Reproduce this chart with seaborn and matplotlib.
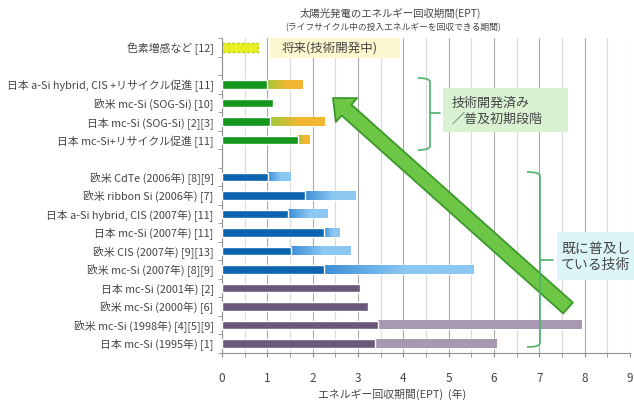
import numpy as np
import pandas as pd
import matplotlib
matplotlib.use("Agg")
import matplotlib.pyplot as plt
import matplotlib.colors as mcolors
from matplotlib.patches import Rectangle
from matplotlib.path import Path
from matplotlib.patches import PathPatch
from matplotlib.lines import Line2D
import seaborn as sns

nan = np.nan

# Energy payback time (EPT) by technology, in years
labels = [
    "色素増感など [12]",
    " ",
    "日本 a-Si hybrid, CIS +リサイクル促進 [11]",
    "欧米 mc-Si (SOG-Si) [10]",
    "日本 mc-Si (SOG-Si) [2][3]",
    "日本 mc-Si+リサイクル促進 [11]",
    "  ",
    "欧米 CdTe (2006年) [8][9]",
    "欧米 ribbon Si (2006年) [7]",
    "日本 a-Si hybrid, CIS (2007年) [11]",
    "日本 mc-Si (2007年) [11]",
    "欧米 CIS (2007年) [9][13]",
    "欧米 mc-Si (2007年) [8][9]",
    "日本 mc-Si (2001年) [2]",
    "欧米 mc-Si (2000年) [6]",
    "欧米 mc-Si (1998年) [4][5][9]",
    "日本 mc-Si (1995年) [1]",
]
ept_low = [0.80, nan, 0.99, 1.13, 1.06, 1.68, nan,
           1.02, 1.83, 1.46, 2.26, 1.52, 2.26,
           3.05, 3.23, 3.45, 3.38]
ept_high = [0.80, nan, 1.78, 1.13, 2.27, 1.94, nan,
            1.52, 2.95, 2.33, 2.60, 2.84, 5.55,
            3.05, 3.23, 7.94, 6.05]
stage = (["future", "blank"] + ["developed"] * 4 + ["blank"]
         + ["spread"] * 6 + ["early"] * 4)

title = "太陽光発電のエネルギー回収期間(EPT)"
subtitle = "(ライフサイクル中の投入エネルギーを回収できる期間)"
xlabel = "エネルギー回収期間(EPT)  (年)"
future_note = "将来(技術開発中)"
dev_note = "技術開発済み\n／普及初期段階"
spread_note = "既に普及し\nている技術"

dark_color = {"future": "#e8ef22", "developed": "#15961d",
              "spread": "#0c63b0", "early": "#6b5779"}
light_color = {"future": "#e8ef22", "developed": "#f2b632",
               "spread": "#8cc8f2", "early": "#a898b2"}
fade_start = {"developed": "#a3c93c", "spread": "#3d8fd6", "early": "#a898b2"}

df = pd.DataFrame({"label": labels, "low": ept_low, "high": ept_high, "stage": stage})

sns.set_style("white")
plt.rcParams["font.family"] = ["Noto Sans CJK JP", "DejaVu Sans"]
text_color = "#454545"

W, H = 634, 403
fig = plt.figure(figsize=(W / 100, H / 100), dpi=100)


def fx(px):
    return px / W


def fy(py):
    return 1 - py / H


ax = fig.add_axes([fx(222), fy(353), 408 / W, 315 / H])

bar_w = 0.46
# full-length (light) bars per stage
for g in ["future", "developed", "spread", "early"]:
    sub = df[df["stage"] == g]
    sns.barplot(data=sub, x="high", y="label", order=labels, orient="y",
                color=light_color[g], saturation=1, width=bar_w,
                errorbar=None, ax=ax, zorder=2)
n_light = len(ax.patches)
# dark portion drawn on top
for g in ["developed", "spread", "early"]:
    sub = df[df["stage"] == g]
    sns.barplot(data=sub, x="low", y="label", order=labels, orient="y",
                color=dark_color[g], saturation=1, width=bar_w,
                errorbar=None, ax=ax, zorder=4)

# colour fade on the light segment, placed over each light bar
for p in ax.patches[:n_light]:
    if not np.isfinite(p.get_width()) or p.get_width() <= 0:
        continue
    row = int(round(p.get_y() + p.get_height() / 2))
    g = stage[row]
    y0, y1 = p.get_y(), p.get_y() + p.get_height()
    if g == "future":
        p.set_edgecolor("#b9cf00")
        p.set_linestyle((0, (2, 1.5)))
        p.set_linewidth(1.0)
        continue
    lo, hi = ept_low[row], ept_high[row]
    if hi <= lo:
        continue
    c0 = np.array(mcolors.to_rgba(fade_start[g]))
    c1 = np.array(mcolors.to_rgba(light_color[g]))
    t = np.clip(np.linspace(0, 1, 64) / 0.55, 0, 1)[:, None]
    img = (c0 + (c1 - c0) * t)[None, :, :]
    ax.imshow(img, extent=(lo, hi, y1, y0), aspect="auto", zorder=3,
              interpolation="bilinear")

ax.set_xlim(0, 9)
ax.set_ylim(16.5, -0.5)
ax.set_xticks(np.arange(0, 10, 1))
ax.set_xticks(np.arange(0.5, 9, 1), minor=True)
ax.set_yticks(np.arange(len(labels)))
ax.set_yticklabels(labels)
ax.set_yticks(np.arange(-0.5, len(labels), 1), minor=True)
ax.set_xlabel("")
ax.set_ylabel("")
ax.set_axisbelow(True)
ax.grid(axis="x", which="major", color="#a9a9a9", lw=0.8, zorder=0)
ax.grid(axis="x", which="minor", color="#dadada", lw=0.8, zorder=0)
ax.grid(axis="y", visible=False)
for s in ["top", "right"]:
    ax.spines[s].set_visible(False)
for s in ["left", "bottom"]:
    ax.spines[s].set_color("#909090")
    ax.spines[s].set_linewidth(0.8)
ax.tick_params(axis="y", which="major", length=0, pad=6, labelsize=7.8,
               labelcolor=text_color)
ax.tick_params(axis="y", which="minor", length=3, direction="out",
               color="#909090", left=True)
ax.tick_params(axis="x", which="both", length=3, direction="out",
               color="#909090", bottom=True)
ax.tick_params(axis="x", which="major", pad=11, labelsize=8.5,
               labelcolor=text_color)

# titles and axis label
fig.text(fx(390), fy(13), title, ha="center", va="center", fontsize=7.5,
         color=text_color)
fig.text(fx(393), fy(28), subtitle, ha="center", va="center", fontsize=6.3,
         color=text_color)
fig.text(fx(392), fy(394), xlabel, ha="center", va="center", fontsize=7.8,
         color=text_color)

# stage notes
fig.add_artist(Rectangle((fx(270), fy(58)), (400 - 270) / W, 20 / H,
                         transform=fig.transFigure, fc="#fdf8cf", ec="none",
                         zorder=1))
fig.text(fx(282), fy(48), future_note, ha="left", va="center", fontsize=9,
         color=text_color, zorder=2)

fig.add_artist(Rectangle((fx(443), fy(132)), (568 - 443) / W, 44 / H,
                         transform=fig.transFigure, fc="#d9f3d2", ec="none",
                         zorder=1))
fig.text(fx(452), fy(111), dev_note, ha="left", va="center", fontsize=9.4,
         color=text_color, linespacing=1.3, zorder=2)

fig.add_artist(Rectangle((fx(557), fy(280)), (640 - 557) / W, 48 / H,
                         transform=fig.transFigure, fc="#dcf5f8", ec="none",
                         zorder=1))
fig.text(fx(561), fy(257), spread_note, ha="left", va="center", fontsize=10,
         color=text_color, linespacing=1.25, zorder=2)

# braces with rounded ends
brace_color = "#4db26c"
for (xl, xv, xt, ytop, ymid, ybot) in [(418, 430, 440, 78, 113, 150),
                                       (527, 540, 553, 172, 260, 347)]:
    verts = [(fx(xl), fy(ytop)), (fx(xv), fy(ytop)), (fx(xv), fy(ytop + 4)),
             (fx(xv), fy(ybot - 4)), (fx(xv), fy(ybot)), (fx(xl), fy(ybot))]
    codes = [Path.MOVETO, Path.CURVE3, Path.CURVE3,
             Path.LINETO, Path.CURVE3, Path.CURVE3]
    fig.add_artist(PathPatch(Path(verts, codes), transform=fig.transFigure,
                             fc="none", ec=brace_color, lw=1.2, zorder=2))
    fig.add_artist(Line2D([fx(xv), fx(xt)], [fy(ymid), fy(ymid)],
                          transform=fig.transFigure, color=brace_color,
                          lw=1.2, zorder=2))

# big improvement arrow
ax.annotate("", xy=(333, H - 98), xycoords="figure pixels",
            xytext=(568, H - 308), textcoords="figure pixels",
            arrowprops=dict(arrowstyle="simple,head_length=1.3,head_width=2.3,tail_width=1.05",
                            mutation_scale=10, fc="#6dc645", ec="#3b982a",
                            lw=1.3, shrinkA=0, shrinkB=0),
            annotation_clip=False, zorder=6)

fig.savefig("out.png", dpi=100)
